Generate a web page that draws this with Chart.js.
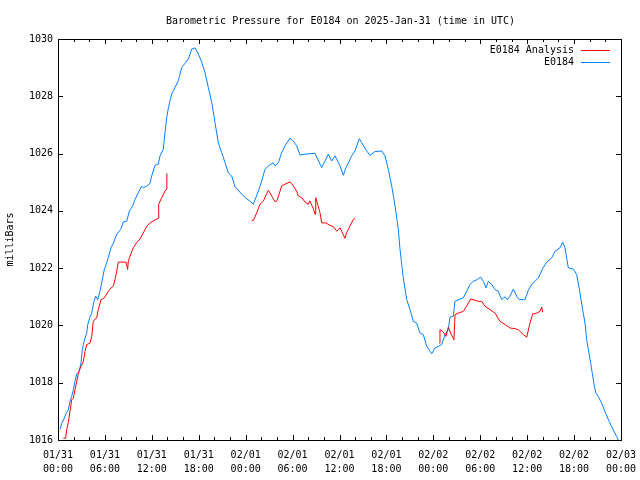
<!DOCTYPE html>
<html><head><meta charset="utf-8">
<script src="https://cdn.jsdelivr.net/npm/chart.js@4"></script>
<style>html,body{margin:0;padding:0;background:#fff}</style>
</head><body>
<canvas id="c" width="640" height="480"></canvas>
<script>
const titleText = "Barometric Pressure for E0184 on 2025-Jan-31 (time in UTC)";
const yAxisLabel = "milliBars";
const seriesNames = ["E0184 Analysis", "E0184"];
const xTickLabels = [
  ["01/31","00:00"],["01/31","06:00"],["01/31","12:00"],["01/31","18:00"],
  ["02/01","00:00"],["02/01","06:00"],["02/01","12:00"],["02/01","18:00"],
  ["02/02","00:00"],["02/02","06:00"],["02/02","12:00"],["02/02","18:00"],
  ["02/03","00:00"]
];
const yTickValues = [1016,1018,1020,1022,1024,1026,1028,1030];

// E0184 observations: hours since 01/31 00:00 UTC
const blueHours = [0.26,0.47,0.81,1.02,1.32,1.53,1.75,1.96,2.17,2.39,2.69,2.94,3.11,3.24,3.45,3.67,3.80,4.09,4.31,4.60,4.82,5.08,5.37,5.59,5.92,6.23,6.43,6.78,7.07,7.51,8.02,8.35,8.79,9.12,9.55,9.85,10.27,10.70,10.91,11.34,11.77,11.98,12.41,12.83,13.04,13.47,13.68,13.90,14.11,14.54,14.96,15.39,15.82,16.24,16.67,17.10,17.52,17.94,18.38,18.80,19.22,19.66,20.08,20.50,20.94,21.36,21.78,22.21,22.64,23.06,23.49,24.00,24.55,24.98,25.62,26.05,26.47,26.90,27.53,27.75,28.18,28.61,29.03,29.67,30.09,30.52,30.95,31.59,32.87,33.72,34.15,34.57,35.00,35.43,36.07,36.49,36.83,37.56,37.98,38.53,38.84,39.48,39.90,40.54,41.40,41.82,42.24,42.68,43.10,43.52,43.74,44.16,44.60,45.02,45.44,45.87,46.30,46.72,47.15,47.79,48.21,49.07,49.49,49.91,50.13,50.55,50.77,51.41,51.83,52.26,52.69,53.11,53.62,54.06,54.39,54.74,55.03,55.46,55.89,56.31,56.74,57.17,57.46,57.80,58.23,58.66,58.99,59.72,60.15,60.58,61.00,61.43,61.99,62.50,63.14,63.56,64.20,64.55,64.84,65.26,65.90,66.33,66.76,67.10,67.40,67.61,67.91,68.13,68.33,68.59,68.80,69.10,69.53,69.95,70.50,71.01,71.45,71.66];
const blueValues = [1016.37,1016.58,1016.76,1016.93,1017.05,1017.34,1017.52,1017.75,1018.04,1018.31,1018.39,1018.68,1019.15,1019.33,1019.56,1019.72,1020.03,1020.29,1020.42,1020.84,1021.02,1020.90,1021.19,1021.49,1021.95,1022.19,1022.36,1022.71,1022.87,1023.18,1023.35,1023.61,1023.64,1023.99,1024.17,1024.40,1024.63,1024.86,1024.81,1024.86,1024.96,1025.22,1025.59,1025.63,1025.92,1026.15,1026.72,1027.24,1027.59,1028.08,1028.31,1028.54,1029.01,1029.15,1029.30,1029.65,1029.69,1029.48,1029.19,1028.83,1028.31,1027.78,1027.08,1026.38,1026.03,1025.68,1025.33,1025.22,1024.84,1024.72,1024.58,1024.45,1024.34,1024.23,1024.69,1025.04,1025.45,1025.57,1025.68,1025.57,1025.68,1026.03,1026.27,1026.54,1026.44,1026.27,1025.95,1025.98,1026.01,1025.51,1025.74,1025.98,1025.74,1025.92,1025.57,1025.24,1025.51,1025.92,1026.09,1026.52,1026.38,1026.09,1025.94,1026.07,1026.09,1025.92,1025.45,1024.87,1024.17,1023.35,1022.65,1021.66,1020.90,1020.55,1020.14,1020.08,1019.73,1019.68,1019.27,1019.01,1019.21,1019.33,1019.68,1019.85,1020.29,1020.32,1020.84,1020.92,1020.96,1021.19,1021.43,1021.54,1021.60,1021.69,1021.54,1021.31,1021.54,1021.43,1021.25,1021.19,1020.90,1021.00,1020.90,1021.02,1021.27,1021.02,1020.90,1020.90,1021.23,1021.43,1021.54,1021.66,1021.99,1022.21,1022.36,1022.59,1022.71,1022.91,1022.71,1022.01,1021.97,1021.78,1021.13,1020.55,1020.08,1019.50,1019.03,1018.67,1018.33,1017.87,1017.63,1017.52,1017.28,1016.99,1016.64,1016.35,1016.12,1016.00];

// E0184 Analysis (null = gap between analysis runs)
const redHours = [0.68,0.98,1.11,1.32,1.53,1.75,1.96,2.17,2.39,2.60,2.94,3.24,3.45,3.67,4.09,4.31,4.51,4.73,4.95,5.15,5.50,5.92,6.43,6.78,7.07,7.29,7.51,7.71,8.70,8.91,8.99,9.21,9.63,10.06,10.49,10.91,11.34,11.77,12.53,12.83,12.88,13.26,13.68,13.90,13.92,
  19.0,
  24.77,25.00,25.41,25.83,26.26,26.90,27.33,27.75,28.00,28.61,29.03,29.67,29.90,30.52,30.73,31.16,31.59,32.01,32.20,32.65,32.87,32.96,33.25,33.51,33.72,34.27,34.79,35.21,35.65,36.07,36.70,36.92,37.34,37.77,37.98,
  43.0,
  48.76,48.85,49.20,49.62,49.91,50.22,50.64,50.77,51.19,51.83,52.26,52.78,53.33,53.75,54.19,54.61,55.25,55.89,56.53,57.17,57.80,58.44,58.87,59.51,59.94,60.36,60.71,61.22,61.64,61.86,61.99];
const redValues = [1016.06,1016.06,1016.35,1016.61,1016.99,1017.40,1017.46,1017.75,1018.04,1018.33,1018.57,1018.74,1019.09,1019.33,1019.38,1019.61,1020.14,1020.22,1020.26,1020.55,1020.90,1020.96,1021.19,1021.31,1021.37,1021.60,1021.89,1022.21,1022.21,1021.95,1022.24,1022.42,1022.71,1022.89,1023.02,1023.23,1023.46,1023.58,1023.70,1023.74,1024.23,1024.46,1024.69,1024.76,1025.31,
  null,
  1023.67,1023.67,1023.93,1024.23,1024.34,1024.72,1024.52,1024.32,1024.35,1024.87,1024.93,1025.01,1024.95,1024.69,1024.52,1024.46,1024.31,1024.23,1024.35,1024.08,1023.88,1024.46,1024.19,1023.93,1023.58,1023.58,1023.49,1023.45,1023.29,1023.41,1023.04,1023.24,1023.47,1023.70,1023.74,
  null,
  1019.38,1019.85,1019.79,1019.62,1019.94,1019.73,1019.50,1020.38,1020.43,1020.49,1020.67,1020.92,1020.88,1020.84,1020.84,1020.67,1020.55,1020.43,1020.14,1020.03,1019.91,1019.89,1019.85,1019.68,1019.59,1020.08,1020.40,1020.43,1020.49,1020.64,1020.46];

const FONT = "'DejaVu Sans Mono', 'Liberation Mono', monospace";
const RED = "#ff0000", BLUE = "#0080ff";

const toPoints = (xs, ys) => xs.map((h, i) => ({x: h, y: ys[i]}));

const framePlugin = {
  id: 'frame',
  afterDraw(chart) {
    const {ctx, chartArea: {left, right, top, bottom}, scales: {x, y}} = chart;
    ctx.save();
    // title, centred over the plot area
    ctx.font = "10px " + FONT;
    ctx.fillStyle = '#000';
    ctx.textAlign = 'center';
    ctx.textBaseline = 'middle';
    ctx.fillText(titleText, (left + right) / 2 + 1, 21);

    ctx.strokeStyle = '#000';
    ctx.lineWidth = 1;
    ctx.beginPath();
    // ticks (inward, mirrored)
    for (let h = 0; h <= 72; h += 2) {
      const px = Math.round(x.getPixelForValue(h)) + 0.5;
      const len = (h % 6 === 0) ? 5 : 3;
      ctx.moveTo(px, bottom); ctx.lineTo(px, bottom - len);
      ctx.moveTo(px, top); ctx.lineTo(px, top + len);
    }
    for (const v of yTickValues) {
      const py = Math.round(y.getPixelForValue(v)) + 0.5;
      ctx.moveTo(left, py); ctx.lineTo(left + 5, py);
      ctx.moveTo(right, py); ctx.lineTo(right - 5, py);
    }
    ctx.stroke();
    ctx.strokeRect(left + 0.5, top + 0.5, right - left, bottom - top);
    // legend (gnuplot style: text then sample line)
    ctx.textAlign = 'right';
    chart.data.datasets.forEach((ds, i) => {
      const ly = 50 + i * 12;
      ctx.fillText(ds.label, 574, ly + 0.5);
      ctx.beginPath();
      ctx.strokeStyle = ds.borderColor;
      ctx.moveTo(581, ly + 0.5); ctx.lineTo(610, ly + 0.5);
      ctx.stroke();
    });
    ctx.restore();
  }
};

new Chart(document.getElementById('c'), {
  type: 'line',
  data: {
    datasets: [
      {label: seriesNames[0], data: toPoints(redHours, redValues), borderColor: RED, borderWidth: 1, pointRadius: 0, spanGaps: false, tension: 0, fill: false},
      {label: seriesNames[1], data: toPoints(blueHours, blueValues), borderColor: BLUE, borderWidth: 1, pointRadius: 0, spanGaps: false, tension: 0, fill: false}
    ]
  },
  options: {
    responsive: false,
    animation: false,
    devicePixelRatio: 1,
    layout: {padding: {left: 0, right: 19, top: 39, bottom: 0}},
    plugins: {
      legend: {display: false},
      tooltip: {enabled: false},
      title: {display: false}
    },
    scales: {
      x: {
        type: 'linear', min: 0, max: 72,
        grid: {display: false, drawTicks: false},
        border: {display: false},
        ticks: {
          stepSize: 2, autoSkip: false, maxRotation: 0, minRotation: 0, padding: 8,
          color: '#000', font: {family: FONT, size: 10, lineHeight: 1.45},
          callback: (v) => (v % 6 === 0) ? xTickLabels[v / 6] : ''
        },
        afterFit: (s) => { s.height = 40; s.paddingLeft = 0; s.paddingRight = 0; }
      },
      y: {
        type: 'linear', min: 1016, max: 1030,
        grid: {display: false, drawTicks: false},
        border: {display: false},
        ticks: {stepSize: 2, padding: 5, color: '#000', font: {family: FONT, size: 10},
          callback: (v) => yTickValues.includes(v) ? String(v) : ''},
        title: {display: true, text: yAxisLabel, color: '#000',
          font: {family: FONT, size: 10}, padding: {top: 4, bottom: 0}},
        afterFit: (s) => { s.width = 58; s.paddingTop = 0; s.paddingBottom = 0; }
      }
    }
  },
  plugins: [framePlugin]
});
</script>
</body></html>
